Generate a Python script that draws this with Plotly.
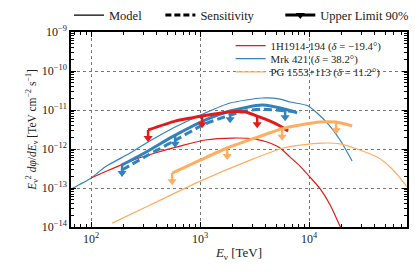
import plotly.graph_objects as go

# ---------------- data ----------------
# Models (thin lines)
red_model_E = [100, 134, 228, 386, 656, 1110, 2010, 3200, 4120, 5420, 6690, 8270, 10200, 12600, 15600, 18800, 21400]
red_model_F = [1.8e-13, 2.6e-13, 4.9e-13, 7.9e-13, 1.19e-12, 1.7e-12, 1.91e-12, 1.8e-12, 1.51e-12, 1.06e-12,
               6.2e-13, 3.6e-13, 1.9e-13, 9.6e-14, 3.66e-14, 1.2e-14, 5.5e-15]

blue_model_E = [65.6, 100, 134, 228, 333, 590, 1110, 1884, 3705, 5420, 6690, 9800, 14600, 19240, 24800]
blue_model_F = [9.4e-14, 1.8e-13, 3.46e-13, 7.9e-13, 1.51e-12, 3.66e-12, 8.4e-12, 1.51e-11, 2.03e-11, 1.91e-11,
                1.6e-11, 1.27e-11, 4.7e-12, 1.7e-12, 4.9e-13]

orange_model_E = [156, 348, 1000, 2880, 5770, 8270, 13150, 19240, 27500, 42000, 55300, 68400, 79300]
orange_model_F = [1.26e-14, 3.66e-14, 1.5e-13, 5.2e-13, 1.06e-12, 1.26e-12, 1.42e-12, 1.35e-12, 1.0e-12,
                  6.2e-13, 3.46e-13, 1.8e-13, 1.06e-13]

# Sensitivity (thick dashed)
blue_sens_E = [192, 333, 553, 1110, 1884, 2590, 3705, 6415, 8270]
blue_sens_F = [2.9e-13, 7.0e-13, 1.51e-12, 4.4e-12, 7.4e-12, 9.4e-12, 1.05e-11, 9.4e-12, 8.9e-12]

# Upper limits 90% (thick solid)
red_ul_E = [333, 590, 1042, 1807, 2590, 3337, 4390, 5420, 6415]
red_ul_F = [3.08e-12, 5.2e-12, 7.0e-12, 8.9e-12, 8.9e-12, 7.0e-12, 5.2e-12, 3.9e-12, 2.9e-12]
red_arrow_E = [333, 1042, 3337]
red_arrow_F = [3.08e-12, 7.0e-12, 7.0e-12]

blue_ul_E = [192, 333, 553, 1110, 1884, 3705, 6415, 7760]
blue_ul_F = [3.9e-13, 8.9e-13, 2.04e-12, 5.5e-12, 9.4e-12, 1.34e-11, 1.0e-11, 8.4e-12]
blue_arrow_E = [192, 590, 1884, 6025]
blue_arrow_F = [3.9e-13, 2.2e-12, 9.4e-12, 1.05e-11]

orange_ul_E = [553, 1000, 1770, 3200, 5650, 8270, 12600, 17700, 24800]
orange_ul_F = [2.42e-13, 5.2e-13, 1.06e-12, 1.91e-12, 3.3e-12, 4.1e-12, 4.9e-12, 4.9e-12, 3.9e-12]
orange_arrow_E = [553, 1770, 5650, 17700]
orange_arrow_F = [2.42e-13, 1.06e-12, 3.3e-12, 4.9e-12]

source_names = ["1H1914-194 (<i>δ</i> = −19.4°)", "Mrk 421 (<i>δ</i> = 38.2°)", "PG 1553+113 (<i>δ</i> = 11.2°)"]
style_names = ["Model", "Sensitivity", "Upper Limit 90%"]

x_tickvals = [1e2, 1e3, 1e4]
x_ticktext = ["10<sup>2</sup>", "10<sup>3</sup>", "10<sup>4</sup>"]
y_tickvals = [1e-9, 1e-10, 1e-11, 1e-12, 1e-13, 1e-14]
y_ticktext = ["10<sup>−9</sup>", "10<sup>−10</sup>", "10<sup>−11</sup>", "10<sup>−12</sup>",
              "10<sup>−13</sup>", "10<sup>−14</sup>"]
x_decades = [1, 2, 3, 4]
y_decades = [-15, -14, -13, -12, -11, -10]
x_minor = [m * 10 ** d for d in x_decades for m in range(2, 10)]
y_minor = [m * 10.0 ** d for d in y_decades for m in range(2, 10)]

RED = "#e31a1c"
BLUE = "#3182bd"
ORANGE = "#fdae61"
FONT = "Liberation Serif"
TXT = "#222222"
ARROW_CENTER = 0.62  # arrow head centre relative to the limit

X_RANGE = [1.815, 4.898]
Y_RANGE = [-14, -9]

fig = go.Figure()

def add_line(E, F, color, width, dash="solid", name=None, legend=None):
    fig.add_trace(go.Scatter(x=E, y=F, mode="lines",
                             line=dict(color=color, width=width, dash=dash, shape="spline", smoothing=0.6),
                             name=name or "", showlegend=name is not None, legend=legend,
                             hoverinfo="skip"))

def add_arrows(E, F, color):
    xs, ys = [], []
    for e, f in zip(E, F):
        xs += [e, e, None]
        ys += [f, f * ARROW_CENTER, None]
    fig.add_trace(go.Scatter(x=xs, y=ys, mode="lines", line=dict(color=color, width=2.5),
                             showlegend=False, hoverinfo="skip"))
    fig.add_trace(go.Scatter(x=E, y=[f * ARROW_CENTER for f in F], mode="markers",
                             marker=dict(symbol="triangle-down", size=8, color=color, line=dict(width=0)),
                             showlegend=False, hoverinfo="skip"))

# models
add_line(blue_model_E, blue_model_F, BLUE, 1.2, name=source_names[1], legend="legend5")
add_line(red_model_E, red_model_F, RED, 1.2, name=source_names[0], legend="legend4")
add_line(orange_model_E, orange_model_F, ORANGE, 1.2, name=source_names[2], legend="legend6")
# sensitivity
add_line(blue_sens_E, blue_sens_F, BLUE, 3, dash="8px,4px")
# upper limits
add_line(blue_ul_E, blue_ul_F, BLUE, 3)
add_arrows(blue_arrow_E, blue_arrow_F, BLUE)
add_line(red_ul_E, red_ul_F, RED, 3)
add_arrows(red_arrow_E, red_arrow_F, RED)
add_line(orange_ul_E, orange_ul_F, ORANGE, 3)
add_arrows(orange_arrow_E, orange_arrow_F, ORANGE)

# style legend entries (dummy traces without data)
fig.add_trace(go.Scatter(x=[None], y=[None], mode="lines", line=dict(color="black", width=1.2),
                         name=style_names[0], legend="legend"))
fig.add_trace(go.Scatter(x=[None], y=[None], mode="lines", line=dict(color="black", width=3, dash="6px,3px"),
                         name=style_names[1], legend="legend2"))
fig.add_trace(go.Scatter(x=[None], y=[None], mode="lines+markers", line=dict(color="black", width=3),
                         marker=dict(symbol="triangle-down", size=8, color="black"),
                         name=style_names[2], legend="legend3"))
# dummy trace for the minor-tick overlay axes
fig.add_trace(go.Scatter(x=[None], y=[None], xaxis="x2", yaxis="y2", showlegend=False, hoverinfo="skip"))

axis_common = dict(
    type="log", showline=True, linecolor="black", linewidth=1.5, mirror="allticks",
    ticks="inside", ticklen=5, tickwidth=1, tickcolor="black",
    showgrid=True, gridcolor="#777777", griddash="dot", gridwidth=1,
    zeroline=False, automargin=False, tickfont=dict(family=FONT, size=12, color=TXT),
)
minor_common = dict(
    type="log", showline=True, linecolor="black", linewidth=1.5, mirror="allticks",
    ticks="inside", ticklen=3, tickwidth=1,
    tickcolor="black", showgrid=False, zeroline=False, showticklabels=False, automargin=False,
)

legend_common = dict(xanchor="left", yanchor="middle", orientation="h", bgcolor="rgba(0,0,0,0)",
                     font=dict(family=FONT, size=12.5, color=TXT), itemwidth=30)
src_legend = dict(xanchor="left", yanchor="middle", bgcolor="rgba(0,0,0,0)",
                  font=dict(family=FONT, size=10.8, color=TXT), itemwidth=30)

fig.update_layout(
    width=415, height=272,
    margin=dict(l=71, r=8, t=32, b=45, autoexpand=False),
    plot_bgcolor="white", paper_bgcolor="white",
    font=dict(family=FONT, size=11, color=TXT),
    xaxis=dict(axis_common, range=X_RANGE, tickvals=x_tickvals, ticktext=x_ticktext,
               title=dict(text="<i>E</i><sub>ν</sub> [TeV]", font=dict(family=FONT, size=13, color=TXT),
                          standoff=3)),
    yaxis=dict(axis_common, range=Y_RANGE, tickvals=y_tickvals, ticktext=y_ticktext,
               title=dict(text="<i>E</i><sub>ν</sub><sup>2</sup> <i>dφ</i>/<i>dE</i><sub>ν</sub> [TeV cm<sup>−2</sup> s<sup>−1</sup>]",
                          font=dict(family=FONT, size=11.5, color=TXT), standoff=3)),
    xaxis2=dict(minor_common, range=X_RANGE, tickvals=x_minor, overlaying="x", side="bottom", anchor="y2"),
    yaxis2=dict(minor_common, range=Y_RANGE, tickvals=y_minor, overlaying="y", side="left", anchor="x2"),
    legend=dict(legend_common, x=-0.006, y=1.085),
    legend2=dict(legend_common, x=0.266, y=1.085),
    legend3=dict(legend_common, x=0.623, y=1.085),
    legend4=dict(src_legend, x=0.475, y=0.93),
    legend5=dict(src_legend, x=0.475, y=0.863),
    legend6=dict(src_legend, x=0.475, y=0.796),
)

fig.write_html("out.html", config={"displayModeBar": False},
               post_script="document.body.style.margin='0';document.body.style.padding='0';")
